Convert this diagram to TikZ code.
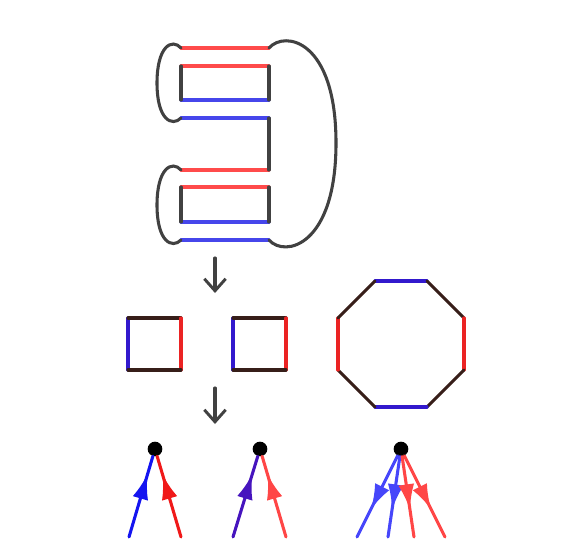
\documentclass[tikz,border=0pt]{standalone}
\usetikzlibrary{arrows.meta}
\usetikzlibrary{decorations.markings}
\definecolor{ribbonred}{RGB}{255,75,75}
\definecolor{ribbonblue}{RGB}{70,70,235}
\definecolor{loopgray}{RGB}{65,65,65}
\definecolor{facered}{RGB}{235,35,35}
\definecolor{faceblue}{RGB}{50,25,205}
\definecolor{facebrown}{RGB}{55,30,25}

\begin{document}
\begin{tikzpicture}[x=0.75pt, y=-0.75pt, line cap=round,
    band/.style={line width=2.3pt},
    loop/.style={line width=2.3pt, draw=loopgray},
    face/.style={line width=2.3pt},
    step arrow/.style={loop, -{Straight Barb[length=9pt, width=16pt, line width=2.2pt]}},
    vertex/.style={circle, fill=black, inner sep=0pt, minimum size=11pt},
    half in/.style={line width=2.3pt, postaction={decorate}, decoration={markings,
      mark=at position 0.78 with {\arrow{Latex[length=19pt, width=12pt]}}}},
    half out/.style={line width=2.3pt, postaction={decorate}, decoration={markings,
      mark=at position 0.66 with {\arrow{Latex[length=19pt, width=12pt]}}}}]

    \useasboundingbox (0,0) rectangle (581,556);

    % ribbon graph
    \draw[band, ribbonred] (181,48) -- (269,48);
    \draw[band, ribbonred] (181,66) -- (269,66);
    \draw[band, ribbonblue] (181,100) -- (269,100);
    \draw[band, ribbonblue] (181,118) -- (269,118);
    \draw[band, ribbonred] (181,170) -- (269,170);
    \draw[band, ribbonred] (181,187) -- (269,187);
    \draw[band, ribbonblue] (181,222) -- (269,222);
    \draw[band, ribbonblue] (181,240) -- (269,240);

    \draw[loop] (181,66) -- (181,100);
    \draw[loop] (269,66) -- (269,100);
    \draw[loop] (269,118) -- (269,170);
    \draw[loop] (181,187) -- (181,222);
    \draw[loop] (269,187) -- (269,222);

    \draw[loop] (181,48) .. controls (172,38) and (157,46) .. (157,83)
      .. controls (157,120) and (172,127) .. (181,118);
    \draw[loop] (181,170) .. controls (172,160) and (157,168) .. (157,205)
      .. controls (157,242) and (172,249) .. (181,240);
    \draw[loop] (269,48) .. controls (285,30) and (336,40) .. (336,143)
      .. controls (336,246) and (285,258) .. (269,240);

    \coordinate (top1) at (215,258);
    \coordinate (bot1) at (215,293);
    \draw[step arrow] (top1) -- (bot1);

    % faces
    \foreach \x/\name in {128/sqa, 233/sqb} {
      \coordinate (\name-sw) at (\x,370);
      \coordinate (\name-nw) at (\x,318);
      \coordinate (\name-ne) at (\x+53,318);
      \coordinate (\name-se) at (\x+53,370);
      \draw[face, faceblue] (\name-sw) -- (\name-nw);
      \draw[face, facebrown] (\name-nw) -- (\name-ne);
      \draw[face, facered] (\name-ne) -- (\name-se);
      \draw[face, facebrown] (\name-se) -- (\name-sw);
    }

    \coordinate (oc1) at (375,281);
    \coordinate (oc2) at (427,281);
    \coordinate (oc3) at (464,318);
    \coordinate (oc4) at (464,370);
    \coordinate (oc5) at (427,407);
    \coordinate (oc6) at (375,407);
    \coordinate (oc7) at (338,370);
    \coordinate (oc8) at (338,318);
    \draw[face, faceblue] (oc1) -- (oc2);
    \draw[face, facebrown] (oc2) -- (oc3);
    \draw[face, facered] (oc3) -- (oc4);
    \draw[face, facebrown] (oc4) -- (oc5);
    \draw[face, faceblue] (oc5) -- (oc6);
    \draw[face, facebrown] (oc6) -- (oc7);
    \draw[face, facered] (oc7) -- (oc8);
    \draw[face, facebrown] (oc8) -- (oc1);

    \coordinate (top2) at (215,388);
    \coordinate (bot2) at (215,424);
    \draw[step arrow] (top2) -- (bot2);

    % vertices
    \node[vertex] (v1) at (155,449) {};
    \node[vertex] (v2) at (260,449) {};
    \node[vertex] (v3) at (401,449) {};

    \coordinate (e1a) at (129,537);
    \coordinate (e1b) at (181,537);
    \coordinate (e2a) at (233,537);
    \coordinate (e2b) at (286,537);
    \coordinate (e3a) at (357,537);
    \coordinate (e3b) at (388,537);
    \coordinate (e3c) at (414,537);
    \coordinate (e3d) at (445,537);

    \draw[half in, draw={rgb,255:red,20;green,20;blue,240}, fill={rgb,255:red,20;green,20;blue,240}] (e1a) -- (v1);
    \draw[half in, draw={rgb,255:red,240;green,25;blue,25}, fill={rgb,255:red,240;green,25;blue,25}] (e1b) -- (v1);
    \draw[half in, draw={rgb,255:red,70;green,20;blue,190}, fill={rgb,255:red,70;green,20;blue,190}] (e2a) -- (v2);
    \draw[half in, draw={rgb,255:red,255;green,70;blue,70}, fill={rgb,255:red,255;green,70;blue,70}] (e2b) -- (v2);

    \draw[half out, draw={rgb,255:red,70;green,70;blue,250}, fill={rgb,255:red,70;green,70;blue,250}] (v3) -- (e3a);
    \draw[half out, draw={rgb,255:red,70;green,70;blue,250}, fill={rgb,255:red,70;green,70;blue,250}] (v3) -- (e3b);
    \draw[half out, draw={rgb,255:red,255;green,70;blue,70}, fill={rgb,255:red,255;green,70;blue,70}] (v3) -- (e3c);
    \draw[half out, draw={rgb,255:red,255;green,70;blue,70}, fill={rgb,255:red,255;green,70;blue,70}] (v3) -- (e3d);
  \end{tikzpicture}
\end{document}
